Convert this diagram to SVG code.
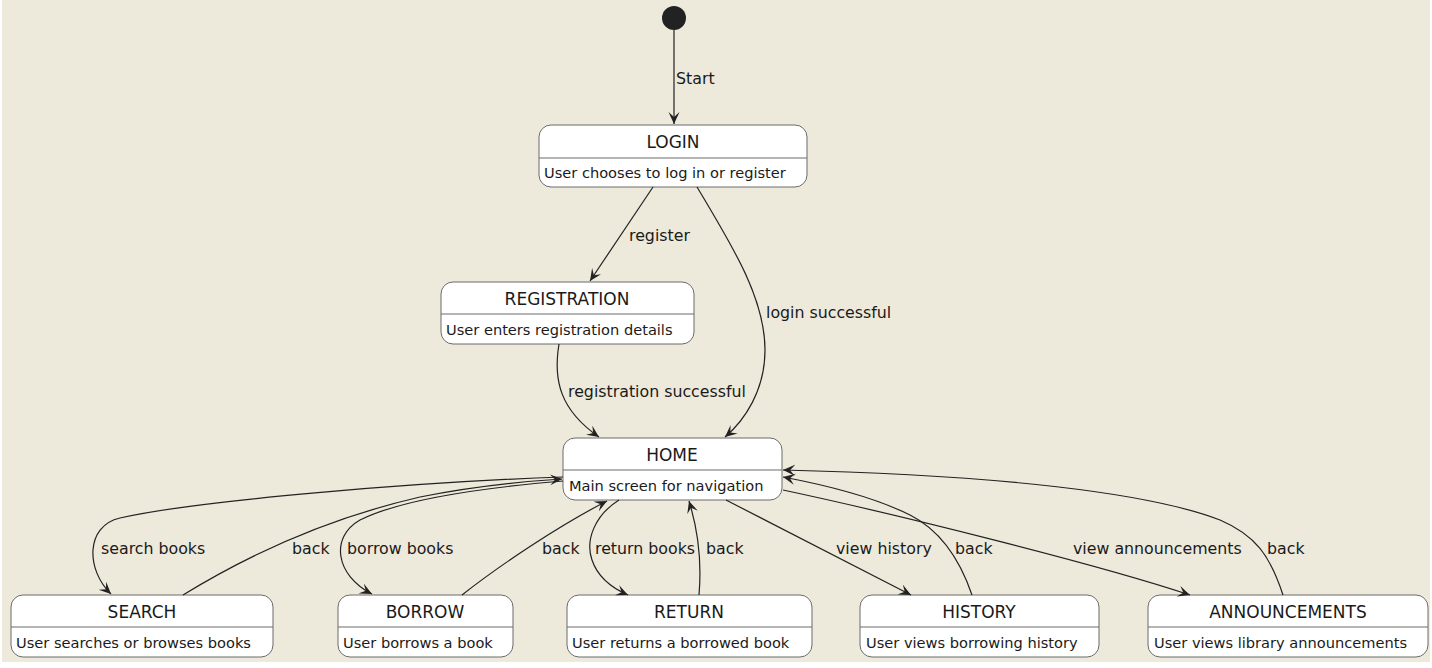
<svg xmlns="http://www.w3.org/2000/svg" width="1432" height="668" viewBox="0 0 1432 668">
<style>
.box{fill:#ffffff;stroke:#6b6b6b;stroke-width:1}
.div{stroke:#6b6b6b;stroke-width:1}
.t{font-family:"DejaVu Sans",sans-serif;font-size:17px;fill:#1a1a1a;text-anchor:middle}
.d{font-family:"DejaVu Sans",sans-serif;font-size:14.6px;fill:#1a1a1a}
.l{font-family:"DejaVu Sans",sans-serif;font-size:15.8px;fill:#1a1a1a}
.e{fill:none;stroke:#222222;stroke-width:1.2;marker-end:url(#arr)}
</style>
<defs>
<marker id="arr" markerUnits="userSpaceOnUse" markerWidth="14" markerHeight="12" refX="12" refY="5.5" orient="auto">
<path d="M0,0 L12,5.5 L0,11 L5,5.5 Z" fill="#222222"/>
</marker>
</defs>
<rect x="2" y="0" width="1428" height="662" fill="#EDE9DB"/>
<g id="start"><circle cx="674" cy="18" r="12" fill="#222222"/></g>
<g id="LOGIN"><rect class="box" x="539" y="125" width="268" height="62" rx="12"/><line class="div" x1="539" y1="158" x2="807" y2="158"/><text class="t" x="673" y="148">LOGIN</text><text class="d" x="544" y="178">User chooses to log in or register</text></g>
<g id="REGISTRATION"><rect class="box" x="441" y="282" width="253" height="62" rx="12"/><line class="div" x1="441" y1="314" x2="694" y2="314"/><text class="t" x="567" y="305">REGISTRATION</text><text class="d" x="446" y="335">User enters registration details</text></g>
<g id="HOME"><rect class="box" x="563" y="438" width="219" height="62" rx="12"/><line class="div" x1="563" y1="470" x2="782" y2="470"/><text class="t" x="672" y="461">HOME</text><text class="d" x="569" y="491">Main screen for navigation</text></g>
<g id="SEARCH"><rect class="box" x="11" y="595" width="262" height="62" rx="12"/><line class="div" x1="11" y1="627" x2="273" y2="627"/><text class="t" x="142" y="618">SEARCH</text><text class="d" x="16" y="648">User searches or browses books</text></g>
<g id="BORROW"><rect class="box" x="338" y="595" width="175" height="62" rx="12"/><line class="div" x1="338" y1="627" x2="513" y2="627"/><text class="t" x="425" y="618">BORROW</text><text class="d" x="343" y="648">User borrows a book</text></g>
<g id="RETURN"><rect class="box" x="567" y="595" width="245" height="62" rx="12"/><line class="div" x1="567" y1="627" x2="812" y2="627"/><text class="t" x="689" y="618">RETURN</text><text class="d" x="572" y="648">User returns a borrowed book</text></g>
<g id="HISTORY"><rect class="box" x="860" y="595" width="239" height="62" rx="12"/><line class="div" x1="860" y1="627" x2="1099" y2="627"/><text class="t" x="979" y="618">HISTORY</text><text class="d" x="866" y="648">User views borrowing history</text></g>
<g id="ANNOUNCEMENTS"><rect class="box" x="1148" y="595" width="280" height="62" rx="12"/><line class="div" x1="1148" y1="627" x2="1428" y2="627"/><text class="t" x="1288" y="618">ANNOUNCEMENTS</text><text class="d" x="1154" y="648">User views library announcements</text></g>
<g id="connectors">
<path class="e" d="M674,30 L674,124"/>
<path class="e" d="M653,187 L590,281"/>
<path class="e" d="M697,187 C735,250 765,300 765,350 C765,390 745,420 725,437"/>
<path class="e" d="M559,344 C553,380 560,410 599,437"/>
<path class="e" d="M563,477 C420,482 200,500 120,518 C85,526 86,570 111,594"/>
<path class="e" d="M183,595 C240,560 320,520 420,497 C480,485 530,481 562,479"/>
<path class="e" d="M563,481 C480,488 400,500 360,520 C330,537 335,575 372,594"/>
<path class="e" d="M462,595 C500,565 560,525 607,501"/>
<path class="e" d="M619,500 C595,515 585,540 592,560 C598,578 612,588 628,595"/>
<path class="e" d="M699,595 C702,560 698,530 689,501"/>
<path class="e" d="M726,500 L911,595"/>
<path class="e" d="M972,595 C960,560 940,530 910,515 C870,495 820,484 783,477"/>
<path class="e" d="M783,490 C900,515 1100,565 1190,595"/>
<path class="e" d="M1283,595 C1270,555 1255,535 1220,520 C1150,493 1000,475 783,470"/>
<text class="l" x="676" y="84">Start</text>
<text class="l" x="629" y="241">register</text>
<text class="l" x="766" y="318">login successful</text>
<text class="l" x="568" y="397">registration successful</text>
<text class="l" x="101" y="554">search books</text>
<text class="l" x="292" y="554">back</text>
<text class="l" x="347" y="554">borrow books</text>
<text class="l" x="542" y="554">back</text>
<text class="l" x="595" y="554">return books</text>
<text class="l" x="706" y="554">back</text>
<text class="l" x="836" y="554">view history</text>
<text class="l" x="955" y="554">back</text>
<text class="l" x="1073" y="554">view announcements</text>
<text class="l" x="1267" y="554">back</text>
</g>
</svg>
